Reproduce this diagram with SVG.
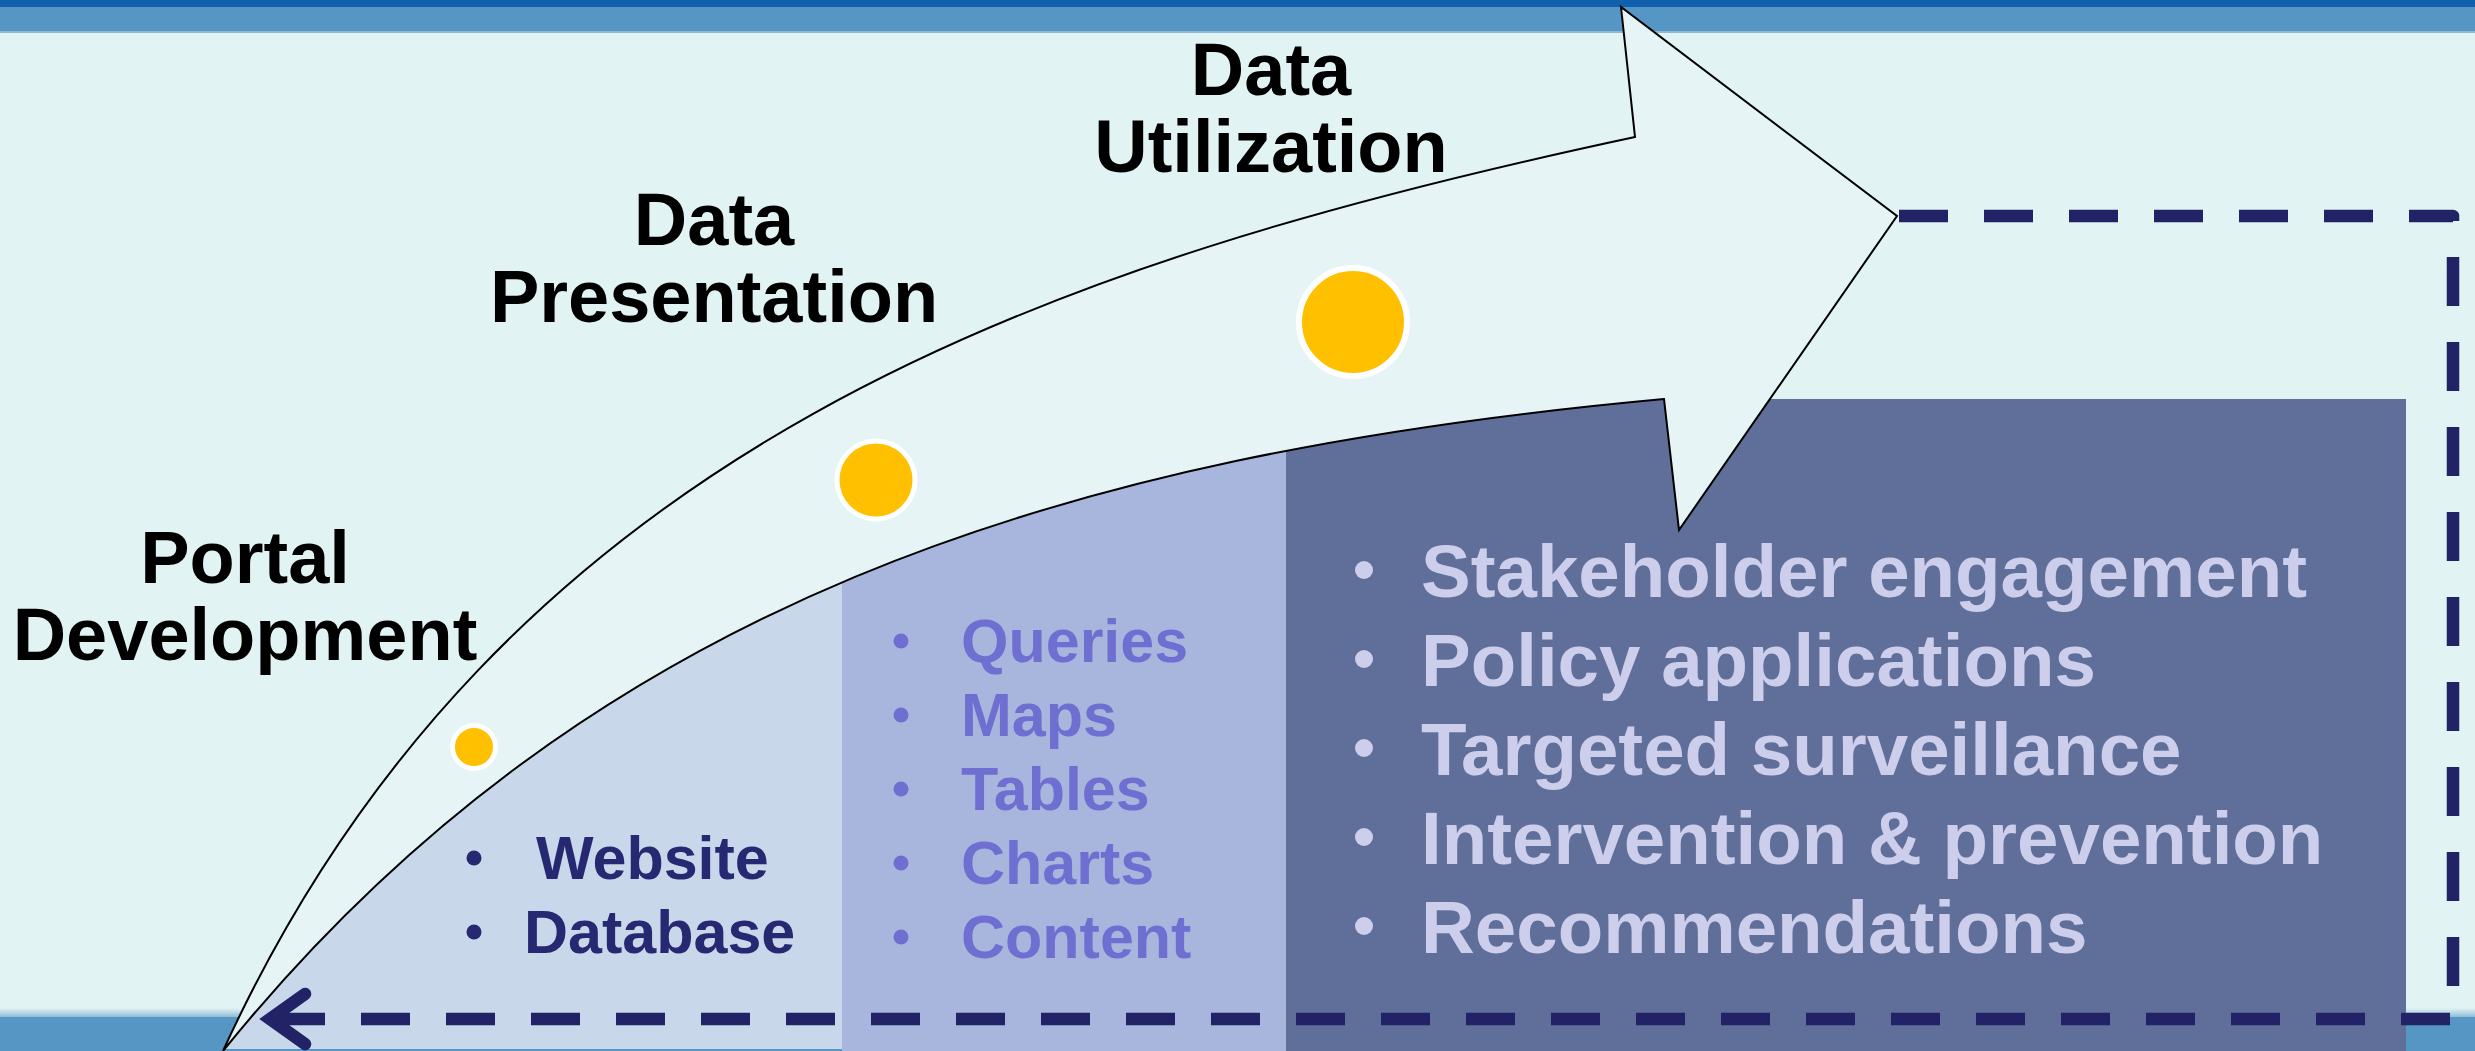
<svg xmlns="http://www.w3.org/2000/svg" width="2475" height="1051" viewBox="0 0 2475 1051">
<defs>
<style>
.title{font-family:"Liberation Sans",Arial,sans-serif;font-weight:bold;font-size:74px;fill:#000;text-anchor:middle}
.p1{font-family:"Liberation Sans",Arial,sans-serif;font-weight:bold;font-size:61px;fill:#272872}
.p2{font-family:"Liberation Sans",Arial,sans-serif;font-weight:bold;font-size:61px;fill:#6e6fd0}
.p3{font-family:"Liberation Sans",Arial,sans-serif;font-weight:bold;font-size:74.5px;fill:#cdcdec}
.dot{fill:#ffc000;stroke:#ffffff}
.conn{fill:none;stroke:#222266;stroke-width:12.5}
</style>
<clipPath id="under">
<path d="M223,1051 C587,601 1064,454 1664,399 L2475,399 L2475,1051 Z"/>
</clipPath>
<linearGradient id="botg" x1="0" y1="0" x2="0" y2="1">
<stop offset="0" stop-color="#e2f3f3"/>
<stop offset="1" stop-color="#8fbcd6"/>
</linearGradient>
</defs>
<rect id="background" x="0" y="0" width="2475" height="1051" fill="#e2f3f3"/>
<g id="bands">
<rect x="0" y="0" width="2475" height="7" fill="#1160ad"/>
<rect x="0" y="7" width="2475" height="25" fill="#5596c5"/>
<rect x="0" y="31" width="2475" height="2" fill="#8fbad4"/>
<rect x="0" y="1008" width="2475" height="9" fill="url(#botg)"/>
<rect x="0" y="1017" width="2475" height="34" fill="#5596c5"/>
</g>
<g id="panel-portal" clip-path="url(#under)">
<rect x="200" y="500" width="642" height="549" fill="#c8d7ea"/>
</g>
<g id="panel-presentation" clip-path="url(#under)">
<rect x="842" y="430" width="444" height="621" fill="#a8b6de"/>
</g>
<g id="panel-utilization">
<rect x="1286" y="399" width="1120" height="652" fill="#606f99"/>
</g>
<g id="progress-arrow">
<path d="M223,1051 C500,445 1050,262 1635,137 L1621,7 L1897,216 L1679,530 L1664,399 C1064,454 587,601 223,1051 Z" fill="#e7f4f5" stroke="#000" stroke-width="2" stroke-linejoin="miter"/>
</g>
<g id="milestones">
<circle class="dot" cx="474" cy="747" r="21.5" stroke-width="5"/>
<circle class="dot" cx="876" cy="480" r="39" stroke-width="5"/>
<circle class="dot" cx="1353" cy="322" r="54" stroke-width="6"/>
</g>
<g id="label-portal">
<text class="title" x="245" y="583">Portal</text>
<text class="title" x="245" y="660">Development</text>
</g>
<g id="label-presentation">
<text class="title" x="714" y="245">Data</text>
<text class="title" x="714" y="322">Presentation</text>
</g>
<g id="label-utilization">
<text class="title" x="1271" y="95">Data</text>
<text class="title" x="1271" y="172">Utilization</text>
</g>
<g id="list-portal">
<circle cx="474" cy="858" r="7.5" fill="#272872"/>
<circle cx="474" cy="932" r="7.5" fill="#272872"/>
<text class="p1" x="536" y="879">Website</text>
<text class="p1" x="524" y="953">Database</text>
</g>
<g id="list-presentation" fill="#6e6fd0">
<circle cx="901" cy="641" r="7.5"/>
<circle cx="901" cy="715" r="7.5"/>
<circle cx="901" cy="789" r="7.5"/>
<circle cx="901" cy="863" r="7.5"/>
<circle cx="901" cy="937" r="7.5"/>
<text class="p2" x="961" y="662">Queries</text>
<text class="p2" x="961" y="736">Maps</text>
<text class="p2" x="961" y="810">Tables</text>
<text class="p2" x="961" y="884">Charts</text>
<text class="p2" x="961" y="958">Content</text>
</g>
<g id="list-utilization" fill="#cdcdec">
<circle cx="1364" cy="570" r="9"/>
<circle cx="1364" cy="659" r="9"/>
<circle cx="1364" cy="748" r="9"/>
<circle cx="1364" cy="837" r="9"/>
<circle cx="1364" cy="926" r="9"/>
<text class="p3" x="1421" y="597">Stakeholder engagement</text>
<text class="p3" x="1421" y="686">Policy applications</text>
<text class="p3" x="1421" y="775">Targeted surveillance</text>
<text class="p3" x="1421" y="864">Intervention &amp; prevention</text>
<text class="p3" x="1421" y="953">Recommendations</text>
</g>
<g id="connectors">
<path class="conn" d="M1899,216 H2453 V1019 H270" stroke-dasharray="49 36" stroke-linejoin="round"/>
<polyline class="conn" points="305,994 270,1019 305,1044" stroke-linecap="round" stroke-linejoin="miter"/>
</g>
</svg>
